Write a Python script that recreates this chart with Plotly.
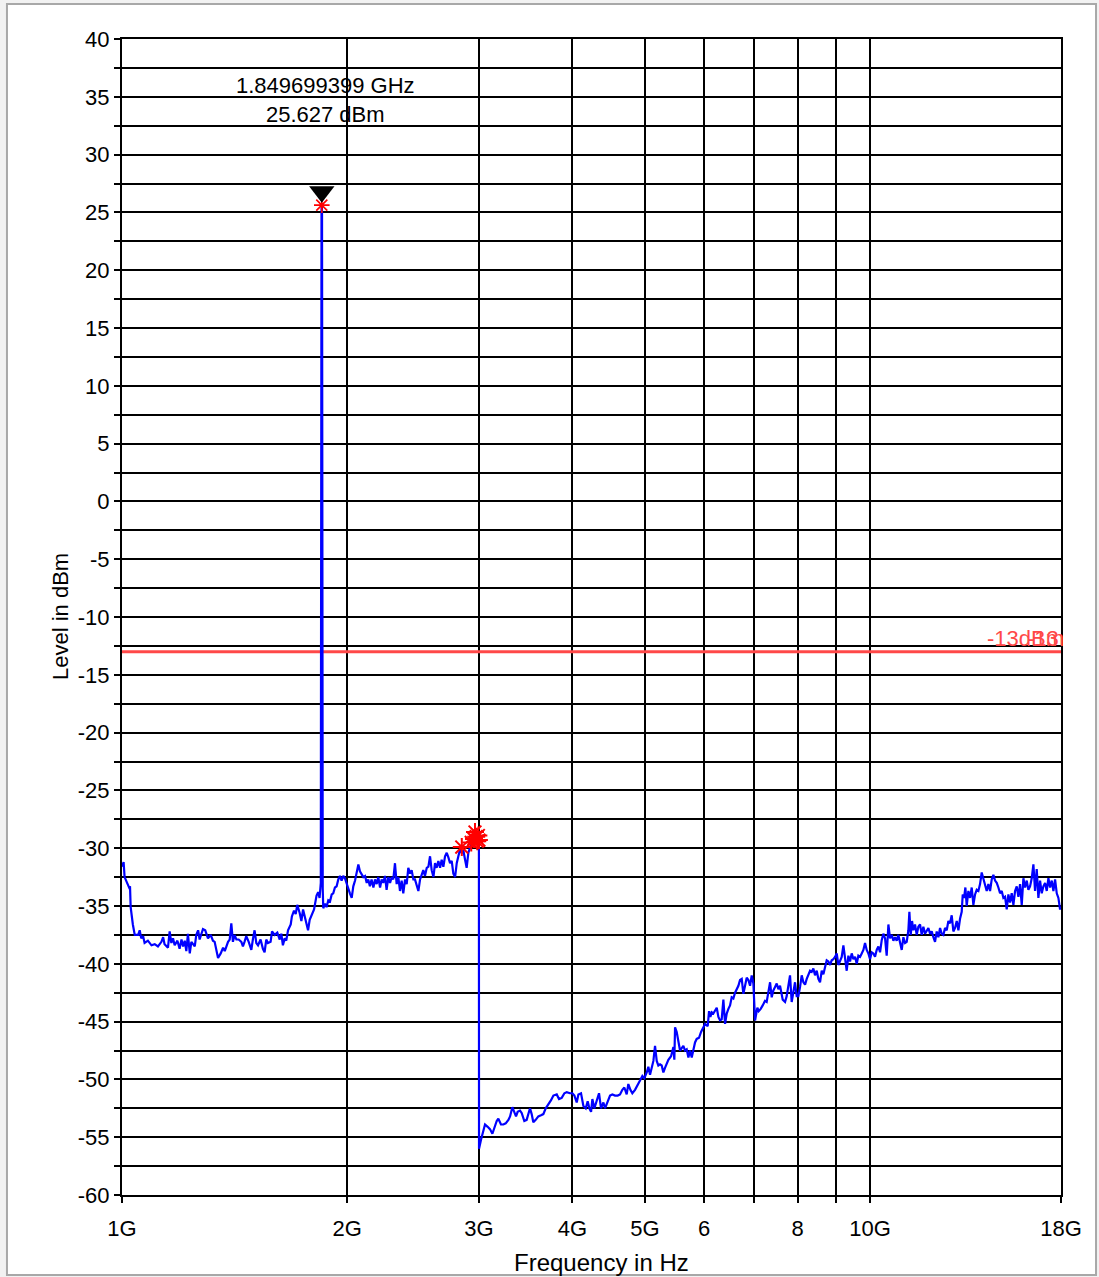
import math
import plotly.graph_objects as go

# ---- measured trace, first sweep band: 1 GHz .. 3 GHz (carrier at ~1.85 GHz) ----
FREQ_LOW_GHZ = [
    1.000, 1.005, 1.008, 1.017, 1.022, 1.025, 1.027, 1.034, 1.040, 1.051,
    1.056, 1.061, 1.067, 1.072, 1.083, 1.095, 1.106, 1.117, 1.129, 1.135,
    1.140, 1.152, 1.158, 1.164, 1.170, 1.176, 1.186, 1.194, 1.201, 1.207,
    1.213, 1.219, 1.225, 1.232, 1.238, 1.251, 1.257, 1.264, 1.270, 1.277,
    1.283, 1.292, 1.303, 1.314, 1.323, 1.330, 1.337, 1.344, 1.355, 1.365,
    1.372, 1.386, 1.393, 1.400, 1.407, 1.414, 1.422, 1.432, 1.444, 1.451,
    1.458, 1.466, 1.477, 1.489, 1.496, 1.504, 1.512, 1.520, 1.532, 1.543,
    1.551, 1.559, 1.567, 1.580, 1.587, 1.600, 1.613, 1.625, 1.633, 1.641,
    1.650, 1.658, 1.667, 1.681, 1.687, 1.698, 1.707, 1.715, 1.728, 1.737,
    1.746, 1.755, 1.764, 1.773, 1.782, 1.791, 1.806, 1.820, 1.829, 1.837,
    1.844, 1.848, 1.849699399, 1.851, 1.855,
    1.858, 1.868, 1.877, 1.887, 1.897, 1.907, 1.916, 1.926, 1.936, 1.946,
    1.956, 1.966, 1.976, 1.986, 1.997, 2.007, 2.017, 2.028, 2.038, 2.049,
    2.059, 2.070, 2.080, 2.091, 2.102, 2.113, 2.124, 2.134, 2.145, 2.156,
    2.168, 2.179, 2.190, 2.201, 2.213, 2.224, 2.235, 2.247, 2.258, 2.270,
    2.282, 2.294, 2.305, 2.317, 2.329, 2.341, 2.353, 2.365, 2.377, 2.390,
    2.402, 2.414, 2.427, 2.439, 2.452, 2.464, 2.477, 2.490, 2.503, 2.516,
    2.528, 2.541, 2.555, 2.568, 2.581, 2.594, 2.608, 2.621, 2.634, 2.648,
    2.662, 2.675, 2.689, 2.703, 2.717, 2.731, 2.745, 2.759, 2.773, 2.788,
    2.802, 2.816, 2.831, 2.845, 2.860, 2.875, 2.889, 2.904, 2.919, 2.934,
    2.949, 2.965, 2.980, 2.995, 3.000,
]
LEVEL_LOW_DBM = [
    -31.6, -31.2, -32.5, -33.2, -33.4, -33.3, -35.1, -36.6, -37.5, -37.5,
    -37.1, -37.8, -37.6, -38.2, -38.0, -38.4, -38.3, -38.5, -38.1, -37.7,
    -38.3, -38.6, -37.2, -38.2, -37.8, -38.4, -38.0, -38.7, -37.9, -38.5,
    -38.0, -38.9, -37.4, -39.1, -38.1, -38.5, -37.5, -37.1, -37.9, -37.4,
    -37.0, -37.1, -37.8, -37.5, -38.0, -38.1, -38.9, -39.5, -39.1, -38.6,
    -38.9, -38.1, -37.9, -36.5, -38.1, -37.5, -37.9, -37.9, -38.1, -38.5,
    -38.1, -37.6, -38.1, -38.8, -37.9, -37.1, -38.2, -38.4, -37.9, -38.7,
    -39.0, -37.9, -38.2, -38.1, -37.2, -37.5, -37.3, -37.9, -37.4, -38.4,
    -37.8, -38.0, -37.1, -36.6, -35.9, -35.4, -35.7, -34.9, -35.6, -36.3,
    -35.3, -36.0, -36.5, -37.1, -36.2, -35.9, -35.3, -34.1, -33.8, -34.3,
    -33.0, 25.2, 25.627, 25.0, -33.5,
    -35.2, -34.8, -35.1, -34.5, -34.6, -34.0, -33.9, -33.4, -33.3, -32.7,
    -32.4, -32.8, -32.4, -32.6, -33.1, -33.6, -33.9, -34.3, -33.3, -32.8,
    -32.2, -31.4, -32.0, -32.2, -32.5, -32.4, -33.0, -32.7, -33.3, -32.7,
    -33.4, -32.7, -33.1, -32.5, -33.4, -32.7, -33.0, -32.4, -33.6, -32.5,
    -33.0, -32.5, -32.7, -31.3, -33.1, -32.5, -33.7, -32.8, -33.9, -32.7,
    -33.1, -31.7, -32.2, -31.9, -32.7, -32.7, -33.3, -33.7, -32.7, -32.2,
    -31.9, -32.4, -31.7, -31.6, -30.7, -31.9, -32.5, -31.3, -31.7, -31.1,
    -31.7, -31.0, -31.6, -30.7, -30.4, -30.8, -31.3, -31.1, -32.2, -32.5,
    -31.3, -30.7, -30.1, -30.4, -30.2, -31.0, -31.7, -30.4, -29.9, -29.5,
    -29.6, -29.2, -29.5, -29.3, -29.6,
]

# ---- measured trace, second sweep band: 3 GHz .. 18 GHz ----
FREQ_HIGH_GHZ = [
    3.001, 3.020, 3.041, 3.057, 3.082, 3.104, 3.127, 3.146, 3.169, 3.185,
    3.211, 3.234, 3.258, 3.285, 3.302, 3.325, 3.346, 3.363, 3.380, 3.405,
    3.422, 3.450, 3.475, 3.493, 3.511, 3.529, 3.547, 3.573, 3.602, 3.632,
    3.658, 3.685, 3.715, 3.746, 3.773, 3.812, 3.839, 3.871, 3.903, 3.931,
    3.971, 4.000, 4.025, 4.054, 4.075, 4.108, 4.138, 4.168, 4.193, 4.215,
    4.237, 4.254, 4.280, 4.311, 4.342, 4.369, 4.401, 4.423, 4.460, 4.492,
    4.524, 4.561, 4.599, 4.632, 4.665, 4.694, 4.728, 4.752, 4.782, 4.811,
    4.851, 4.891, 4.926, 4.962, 4.992, 5.029, 5.054, 5.080, 5.107, 5.133,
    5.159, 5.186, 5.212, 5.239, 5.266, 5.293, 5.320, 5.348, 5.375, 5.420,
    5.459, 5.475, 5.487, 5.515, 5.543, 5.572, 5.601, 5.629, 5.658, 5.687,
    5.717, 5.746, 5.776, 5.805, 5.835, 5.865, 5.907, 5.944, 5.987, 6.018,
    6.067, 6.092, 6.117, 6.142, 6.174, 6.206, 6.238, 6.270, 6.302, 6.334,
    6.367, 6.400, 6.433, 6.466, 6.499, 6.532, 6.566, 6.600, 6.634, 6.668,
    6.702, 6.737, 6.771, 6.806, 6.841, 6.876, 6.912, 6.947, 6.983, 7.019,
    7.069, 7.098, 7.142, 7.186, 7.238, 7.275, 7.313, 7.351, 7.388, 7.426,
    7.465, 7.503, 7.542, 7.580, 7.643, 7.698, 7.737, 7.777, 7.817, 7.857,
    7.898, 7.938, 7.979, 8.020, 8.062, 8.103, 8.145, 8.187, 8.229, 8.271,
    8.314, 8.356, 8.399, 8.442, 8.486, 8.530, 8.573, 8.618, 8.662, 8.706,
    8.751, 8.796, 8.842, 8.887, 8.933, 8.979, 9.025, 9.071, 9.118, 9.165,
    9.212, 9.259, 9.307, 9.355, 9.403, 9.451, 9.500, 9.549, 9.598, 9.647,
    9.697, 9.747, 9.797, 9.847, 9.898, 9.949, 10.000, 10.051, 10.103, 10.155,
    10.207, 10.260, 10.313, 10.366, 10.419, 10.473, 10.526, 10.581, 10.635, 10.690,
    10.745, 10.800, 10.855, 10.911, 10.968, 11.024, 11.081, 11.138, 11.195, 11.252,
    11.287, 11.333, 11.380, 11.427, 11.486, 11.545, 11.604, 11.664, 11.724, 11.784,
    11.845, 11.906, 11.967, 12.029, 12.090, 12.153, 12.215, 12.278, 12.341, 12.405,
    12.468, 12.532, 12.597, 12.662, 12.727, 12.792, 12.858, 12.924, 12.991, 13.058,
    13.125, 13.192, 13.260, 13.301, 13.356, 13.411, 13.466, 13.535, 13.605, 13.675,
    13.745, 13.816, 13.887, 13.958, 14.030, 14.102, 14.175, 14.248, 14.321, 14.395,
    14.469, 14.543, 14.618, 14.693, 14.769, 14.845, 14.921, 14.998, 15.075, 15.153,
    15.231, 15.309, 15.388, 15.467, 15.547, 15.627, 15.707, 15.788, 15.869, 15.951,
    16.033, 16.115, 16.198, 16.281, 16.365, 16.449, 16.534, 16.619, 16.704, 16.790,
    16.877, 16.964, 17.051, 17.139, 17.227, 17.316, 17.405, 17.494, 17.584, 17.675,
    17.766, 17.857, 17.949, 18.000,
]
LEVEL_HIGH_DBM = [
    -56.0, -55.2, -54.3, -53.9, -54.1, -54.3, -54.7, -54.1, -53.6, -53.4,
    -53.9, -53.9, -53.8, -53.5, -53.2, -52.4, -52.8, -53.2, -52.8, -52.7,
    -52.9, -53.6, -53.5, -53.0, -52.5, -53.0, -53.7, -53.5, -53.2, -53.1,
    -53.0, -52.5, -52.2, -51.8, -51.4, -51.3, -51.7, -51.6, -51.2, -51.1,
    -51.2, -51.2, -51.4, -52.0, -51.3, -51.2, -52.3, -52.5, -51.9, -52.5,
    -52.8, -51.7, -52.5, -51.9, -51.2, -52.5, -52.0, -52.5, -51.9, -51.4,
    -51.3, -51.4, -51.4, -51.3, -50.9, -50.7, -51.3, -50.4, -50.9, -51.2,
    -50.9, -50.4, -50.1, -49.7, -49.9, -49.4, -48.9, -49.6, -49.0, -48.4,
    -47.1, -48.4, -48.8, -48.7, -48.8, -49.4, -49.0, -48.7, -48.3, -48.0,
    -47.2, -48.3, -45.5, -45.9, -46.8, -47.5, -47.3, -47.1, -47.5, -47.4,
    -48.1, -47.5, -48.1, -47.5, -46.8, -46.5, -46.4, -45.9, -45.5, -45.2,
    -45.4, -44.1, -44.6, -44.2, -44.3, -44.1, -43.8, -44.6, -44.9, -44.8,
    -43.1, -45.2, -44.3, -43.9, -43.6, -42.9, -43.0, -42.5, -42.2, -41.9,
    -41.4, -41.3, -42.6, -41.7, -41.2, -41.4, -41.9, -41.0, -41.7, -44.9,
    -43.8, -44.1, -43.9, -43.6, -43.2, -43.3, -42.6, -41.6, -42.9, -42.3,
    -42.0, -41.7, -42.2, -41.9, -43.1, -43.3, -42.8, -41.9, -41.0, -43.3,
    -42.2, -41.6, -42.8, -42.8, -42.0, -41.0, -41.6, -41.8, -41.3, -40.9,
    -40.6, -40.7, -40.4, -41.0, -40.6, -41.3, -41.6, -40.6, -40.9, -40.3,
    -39.7, -39.8, -40.1, -39.7, -39.6, -39.4, -39.1, -40.1, -39.7, -39.4,
    -38.4, -39.3, -40.6, -39.3, -39.8, -39.1, -39.6, -39.4, -40.0, -39.3,
    -39.4, -39.1, -38.8, -38.2, -38.8, -39.1, -39.6, -39.0, -39.1, -39.4,
    -38.8, -38.5, -39.0, -37.95, -37.4, -37.8, -39.3, -36.6, -37.8, -37.5,
    -38.0, -37.7, -38.0, -37.5, -38.1, -38.8, -37.7, -38.2, -38.1, -37.1,
    -35.5, -37.5, -36.3, -37.1, -36.6, -37.5, -36.8, -36.6, -37.5, -36.8,
    -37.4, -37.1, -36.9, -37.4, -37.2, -37.7, -38.1, -37.2, -37.7, -36.9,
    -37.4, -37.5, -36.9, -37.1, -36.3, -36.5, -35.8, -37.2, -36.9, -36.3,
    -37.1, -36.1, -35.5, -34.0, -34.3, -33.4, -35.0, -33.7, -34.3, -33.4,
    -34.9, -34.0, -33.6, -33.7, -33.1, -32.1, -32.7, -33.1, -33.7, -33.1,
    -33.7, -32.7, -32.3, -32.8, -33.0, -33.4, -33.9, -33.7, -34.3, -34.2,
    -35.3, -34.0, -34.7, -33.9, -34.9, -33.7, -33.3, -34.2, -33.1, -34.9,
    -32.6, -33.4, -32.8, -33.6, -33.3, -32.6, -31.4, -33.7, -31.8, -34.3,
    -32.8, -33.9, -33.3, -33.0, -33.7, -32.6, -33.4, -32.8, -33.7, -32.7,
    -33.9, -34.3, -35.3, -35.1,
]

# ---- marker, limit and peak-list data ----
PEAK_FREQ_GHZ = 1.849699399
PEAK_LEVEL_DBM = 25.627
LIMIT_DBM = -13
LIMIT_LABEL = "-13dBm"
LIMIT_LABEL_2 = "-13"
STAR_FREQ_GHZ = [2.846, 2.930, 2.955, 2.964, 2.975, 2.985, 2.995, 3.000]
STAR_LEVEL_DBM = [-29.9, -29.5, -29.2, -28.6, -29.0, -29.4, -28.9, -29.3]

# ---- axis ticks ----
X_TICK_GHZ = [1, 2, 3, 4, 5, 6, 8, 10, 18]
X_TICK_TEXT = ["1G", "2G", "3G", "4G", "5G", "6", "8", "10G", "18G"]
X_MINOR_GHZ = [7, 9]
Y_TICKS = [-60, -55, -50, -45, -40, -35, -30, -25, -20, -15, -10, -5,
           0, 5, 10, 15, 20, 25, 30, 35, 40]
Y_TICK_TEXT = [str(v) for v in Y_TICKS]
Y_MINOR = [v + 2.5 for v in Y_TICKS[:-1]]

GHZ = 1e9
FONT = "Liberation Sans, Arial, Helvetica, sans-serif"
TRACE_BLUE = "#0000ff"
LIMIT_RED = "#ff4848"
STAR_RED = "#ff0000"
MARKER_LIFT_DB = 1.15  # the delta marker triangle sits just above its point

freq_hz = [f * GHZ for f in FREQ_LOW_GHZ + FREQ_HIGH_GHZ]
level_dbm = LEVEL_LOW_DBM + LEVEL_HIGH_DBM

fig = go.Figure()

# limit line
fig.add_trace(go.Scatter(
    x=[X_TICK_GHZ[0] * GHZ, X_TICK_GHZ[-1] * GHZ], y=[LIMIT_DBM, LIMIT_DBM],
    mode="lines", line=dict(color=LIMIT_RED, width=3),
    hoverinfo="skip", showlegend=False,
))

# spectrum trace
fig.add_trace(go.Scatter(
    x=freq_hz, y=level_dbm, mode="lines",
    line=dict(color=TRACE_BLUE, width=2.2), showlegend=False,
))

# peak-list stars near the 3 GHz band edge
fig.add_trace(go.Scatter(
    x=[f * GHZ for f in STAR_FREQ_GHZ], y=STAR_LEVEL_DBM, mode="markers",
    marker=dict(symbol="asterisk-open", size=15, color=STAR_RED,
                line=dict(color=STAR_RED, width=2)),
    showlegend=False,
))

# marker M1 on the carrier
fig.add_trace(go.Scatter(
    x=[PEAK_FREQ_GHZ * GHZ], y=[PEAK_LEVEL_DBM], mode="markers",
    marker=dict(symbol="asterisk-open", size=13, color=STAR_RED,
                line=dict(color=STAR_RED, width=1.6)),
    showlegend=False,
))
fig.add_trace(go.Scatter(
    x=[PEAK_FREQ_GHZ * GHZ], y=[PEAK_LEVEL_DBM + MARKER_LIFT_DB], mode="markers",
    marker=dict(symbol="triangle-down", size=22, color="#000000",
                line=dict(width=0)),
    showlegend=False,
))

fig.add_annotation(
    x=math.log10(PEAK_FREQ_GHZ * GHZ), y=40, xref="x", yref="y",
    xanchor="center", yanchor="top", yshift=-32, xshift=4,
    text=f"{PEAK_FREQ_GHZ:.9f} GHz<br>{PEAK_LEVEL_DBM:.3f} dBm",
    showarrow=False, font=dict(family=FONT, size=22, color="#000000"),
)

# limit labels
for label, xr in ((LIMIT_LABEL, 1.0058), (LIMIT_LABEL_2, 0.9998)):
    fig.add_annotation(
        x=xr, y=LIMIT_DBM, xref="paper", yref="y", xanchor="right",
        yanchor="bottom", yshift=-1, text=label, showarrow=False,
        font=dict(family=FONT, size=22, color=LIMIT_RED),
    )

# axis titles
fig.add_annotation(
    x=-0.066, y=0.5, xref="paper", yref="paper", text="Level in dBm",
    textangle=-90, showarrow=False, xanchor="center", yanchor="middle",
    font=dict(family=FONT, size=22, color="#000000"),
)
fig.add_annotation(
    x=0.511, y=-0.058, xref="paper", yref="paper", text="Frequency in Hz",
    showarrow=False, xanchor="center", yanchor="middle",
    font=dict(family=FONT, size=24, color="#000000"),
)

# outer frame
fig.add_shape(
    type="rect", xref="paper", yref="paper",
    x0=-0.1225, x1=1.0373, y0=-0.0692, y1=1.0303,
    line=dict(color="#a8a8a8", width=2), fillcolor="#ffffff", layer="below",
)

grid = dict(showgrid=True, gridcolor="#000000", gridwidth=2)
tick_font = dict(family=FONT, size=22, color="#000000")
fig.update_xaxes(
    type="log",
    range=[math.log10(X_TICK_GHZ[0] * GHZ), math.log10(X_TICK_GHZ[-1] * GHZ)],
    tickmode="array", tickvals=[v * GHZ for v in X_TICK_GHZ], ticktext=X_TICK_TEXT,
    ticks="outside", ticklen=6, tickwidth=2, tickcolor="#000000",
    ticklabelstandoff=7,
    minor=dict(tickvals=[v * GHZ for v in X_MINOR_GHZ], ticks="outside",
               ticklen=6, tickwidth=2, tickcolor="#000000", **grid),
    showline=True, linecolor="#000000", linewidth=2, mirror=True,
    zeroline=False, tickfont=tick_font,
    **grid,
)
fig.update_yaxes(
    range=[Y_TICKS[0], Y_TICKS[-1]],
    tickmode="array", tickvals=Y_TICKS, ticktext=Y_TICK_TEXT,
    ticks="outside", ticklen=6, tickwidth=2, tickcolor="#000000",
    minor=dict(tickvals=Y_MINOR, ticks="outside", ticklen=6, tickwidth=2,
               tickcolor="#000000", **grid),
    showline=True, linecolor="#000000", linewidth=2, mirror=True,
    zeroline=False, tickfont=tick_font,
    **grid,
)

fig.update_layout(
    width=1099, height=1277,
    margin=dict(l=122, r=38, t=39, b=82, pad=0),
    paper_bgcolor="#f2f2f2", plot_bgcolor="#ffffff",
    showlegend=False, font=dict(family=FONT, size=22, color="#000000"),
)

fig.write_html("out.html")
